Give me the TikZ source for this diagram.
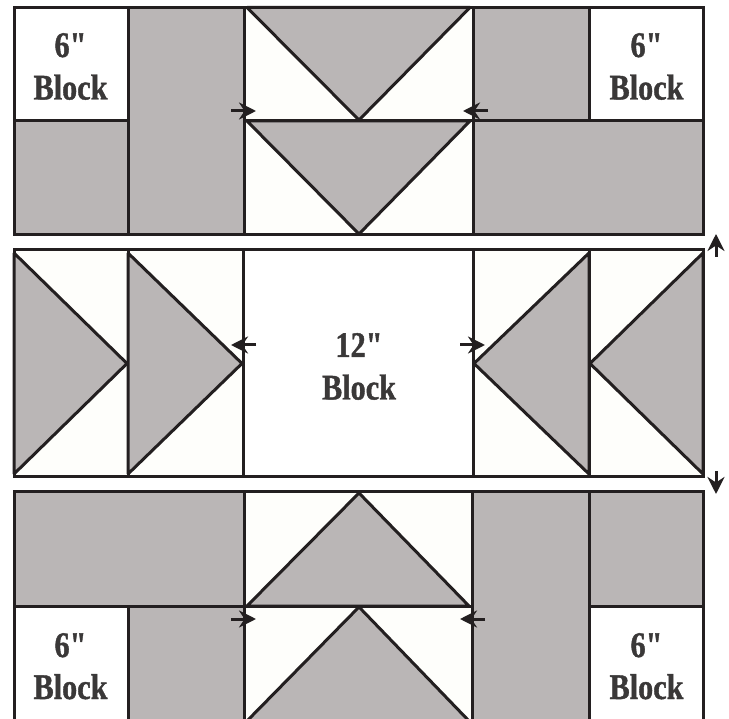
\documentclass[tikz,border=0pt]{standalone}
\usepackage{fontspec}
\newfontfamily\labelfont{Liberation Serif}[BoldFeatures={FakeBold=1.2}]
\usetikzlibrary{arrows.meta}
\definecolor{patch}{HTML}{BAB6B6}
\definecolor{cream}{HTML}{FEFEFB}
\definecolor{ink}{HTML}{231F20}
\definecolor{lettering}{HTML}{3A3838}
\tikzset{
  x=1pt,y=-1pt,
  piece/.style={draw=ink,line width=3pt,line join=miter,fill=#1},
  piece/.default=patch,
  wedge/.style={draw=ink,line width=3pt,line join=bevel,fill=patch},
  pressarrow/.style={draw=ink,line width=3pt,-{Stealth[length=17pt,width=17pt,inset=5.5pt]}},
  sizelabel/.style={text=lettering,anchor=base,inner sep=0pt,font=\labelfont\fontsize{36}{40}\selectfont\bfseries}
}
\newcommand{\narrow}[1]{\scalebox{0.84}[1]{#1}}
\begin{document}
\begin{tikzpicture}
\useasboundingbox (0,0) rectangle (729,719);
\fill[white] (0,0) rectangle (729,719);
\begin{scope}
\clip (0,0) rectangle (729,719);
% top row
\draw[piece=white] (14,7.5) rectangle (128,121);
\draw[piece] (14,121) rectangle (128,235);
\draw[piece] (128,7.5) rectangle (244,235);
\draw[piece=cream] (244,7.5) rectangle (473,121);
\draw[wedge] (247,7.5) -- (470,7.5) -- (359,120) -- cycle;
\draw[piece=cream] (244,121) rectangle (473,235);
\draw[wedge] (247,121) -- (470,121) -- (359,234) -- cycle;
\draw[piece] (473,7.5) rectangle (589,121);
\draw[piece=white] (589,7.5) rectangle (703,121);
\draw[piece] (473,121) rectangle (703,235);
% middle row
\draw[piece=cream] (14,250) rectangle (128,477);
\draw[wedge] (14,253) -- (127,363.5) -- (14,474) -- cycle;
\draw[piece=cream] (128,250) rectangle (243,477);
\draw[wedge] (128,253) -- (242,363.5) -- (128,474) -- cycle;
\draw[piece=white] (243,250) rectangle (473,477);
\draw[piece=cream] (473,250) rectangle (589,477);
\draw[wedge] (589,253) -- (474,363.5) -- (589,474) -- cycle;
\draw[piece=cream] (589,250) rectangle (703,477);
\draw[wedge] (703,253) -- (590,363.5) -- (703,474) -- cycle;
% bottom row
\draw[piece] (14,492) rectangle (244,606);
\draw[piece=white] (14,606) rectangle (128,722);
\draw[piece] (128,606) rectangle (244,722);
\draw[piece=cream] (244,492) rectangle (472,606);
\draw[wedge] (247,606) -- (359,493) -- (469,606) -- cycle;
\draw[piece=cream] (244,606) rectangle (472,722);
\draw[wedge] (246,722) -- (359,607) -- (470,722) -- cycle;
\draw[piece] (472,492) rectangle (589,722);
\draw[piece] (589,492) rectangle (703,606);
\draw[piece=white] (589,606) rectangle (703,722);
\end{scope}
% labels
\node[sizelabel] (tla) at (70.5,57) {\narrow{6"}};
\node[sizelabel] (tlb) at (70.5,99.5) {\narrow{Block}};
\node[sizelabel] (tra) at (646.5,57) {\narrow{6"}};
\node[sizelabel] (trb) at (646.5,99.5) {\narrow{Block}};
\node[sizelabel] (ma) at (359,357) {\narrow{12"}};
\node[sizelabel] (mb) at (359,399.5) {\narrow{Block}};
\node[sizelabel] (bla) at (70.5,657) {\narrow{6"}};
\node[sizelabel] (blb) at (70.5,699) {\narrow{Block}};
\node[sizelabel] (bra) at (646.5,657) {\narrow{6"}};
\node[sizelabel] (brb) at (646.5,699) {\narrow{Block}};
% pressing arrows
\coordinate (a1s) at (231,111); \coordinate (a1e) at (256,111);
\coordinate (a2s) at (488,111); \coordinate (a2e) at (463,111);
\coordinate (a3s) at (256,345); \coordinate (a3e) at (231,345);
\coordinate (a4s) at (460,345); \coordinate (a4e) at (485,345);
\coordinate (a5s) at (231,619); \coordinate (a5e) at (256,619);
\coordinate (a6s) at (485,619); \coordinate (a6e) at (460,619);
\coordinate (a7s) at (716,257); \coordinate (a7e) at (716,234);
\coordinate (a8s) at (716,471); \coordinate (a8e) at (716,494);
\foreach \n in {1,...,8} \draw[pressarrow] (a\n s) -- (a\n e);
\end{tikzpicture}
\end{document}
